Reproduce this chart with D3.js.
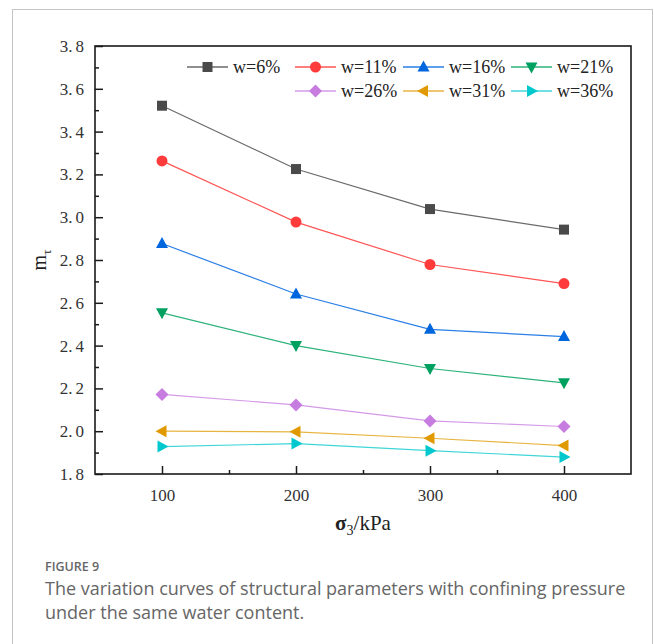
<!DOCTYPE html>
<html>
<head>
<meta charset="utf-8">
<script src="https://cdn.jsdelivr.net/npm/d3@7"></script>
<style>
  html, body { margin: 0; padding: 0; background: #fff; }
  svg { display: block; }
  .serif { font-family: "Liberation Serif", "Times New Roman", serif; }
</style>
</head>
<body>
<svg id="chart" width="654" height="644"></svg>
<script>
// Confining pressure levels (kPa)
const pressures = [100, 200, 300, 400];

// Structural parameter m_tau for each water content
const w6  = [3.521, 3.225, 3.038, 2.942];
const w11 = [3.263, 2.977, 2.779, 2.690];
const w16 = [2.877, 2.641, 2.476, 2.442];
const w21 = [2.553, 2.400, 2.293, 2.226];
const w26 = [2.172, 2.123, 2.048, 2.022];
const w31 = [2.000, 1.997, 1.967, 1.933];
const w36 = [1.928, 1.942, 1.909, 1.879];

const seriesNames = ["w=6%", "w=11%", "w=16%", "w=21%", "w=26%", "w=31%", "w=36%"];
const yTicks = [1.8, 2.0, 2.2, 2.4, 2.6, 2.8, 3.0, 3.2, 3.4, 3.6, 3.8];
const yMinorTicks = [1.9, 2.1, 2.3, 2.5, 2.7, 2.9, 3.1, 3.3, 3.5, 3.7];
const xTicks = [100, 200, 300, 400];
const xMinorTicks = [150, 250, 350];

const series = [
  { name: seriesNames[0], values: w6,  marker: "#4a4a4a", line: "#6a6a6a", shape: "square" },
  { name: seriesNames[1], values: w11, marker: "#ff3b3b", line: "#ff5555", shape: "circle" },
  { name: seriesNames[2], values: w16, marker: "#0066dd", line: "#2a7ee6", shape: "up" },
  { name: seriesNames[3], values: w21, marker: "#00a060", line: "#2db37a", shape: "down" },
  { name: seriesNames[4], values: w26, marker: "#c77ce0", line: "#d49ae8", shape: "diamond" },
  { name: seriesNames[5], values: w31, marker: "#e09a00", line: "#e8b440", shape: "left" },
  { name: seriesNames[6], values: w36, marker: "#00c8cc", line: "#40d6d8", shape: "right" }
];

const svg = d3.select("#chart");

// Outer figure frame
svg.append("rect")
  .attr("x", 12.5).attr("y", 9.5)
  .attr("width", 640).attr("height", 640)
  .attr("fill", "none").attr("stroke", "#c4c4c4").attr("stroke-width", 1);

const plot = { left: 95, right: 631, top: 46, bottom: 474 };

const x = d3.scaleLinear().domain([50, 450]).range([plot.left, plot.right]);
const y = d3.scaleLinear().domain([1.8, 3.8]).range([plot.bottom, plot.top]);

// Marker path generator
function markerPath(shape) {
  switch (shape) {
    case "square":  return "M-5,-5H5V5H-5Z";
    case "circle":  return d3.symbol(d3.symbolCircle, 95)();
    case "up":      return "M0,-6.5L6,4.5L-6,4.5Z";
    case "down":    return "M0,6.5L6,-4.5L-6,-4.5Z";
    case "diamond": return "M0,-6.5L6.5,0L0,6.5L-6.5,0Z";
    case "left":    return "M-6.5,0L4.5,-6L4.5,6Z";
    case "right":   return "M6.5,0L-4.5,-6L-4.5,6Z";
  }
}

// Data lines and markers
const line = d3.line().x((d, i) => x(pressures[i])).y(d => y(d));
const gSeries = svg.append("g");
series.forEach(s => {
  gSeries.append("path")
    .attr("d", line(s.values))
    .attr("fill", "none")
    .attr("stroke", s.line)
    .attr("stroke-width", 1.2);
});
series.forEach(s => {
  gSeries.selectAll(null)
    .data(s.values)
    .enter().append("path")
    .attr("d", markerPath(s.shape))
    .attr("transform", (d, i) => `translate(${x(pressures[i])},${y(d)})`)
    .attr("fill", s.marker);
});

// Axes with inward ticks (minor and major in separate groups)
const axisColor = "#1a1a1a";
function styleAxis(g) {
  g.select(".domain").remove();
  g.attr("font-family", null).attr("font-size", null);
  g.selectAll("line").attr("stroke", axisColor).attr("stroke-width", 1.5);
  g.selectAll("text")
    .attr("class", "serif")
    .style("font-size", "17px")
    .attr("fill", "#333");
}

svg.append("g").attr("transform", `translate(0,${plot.bottom})`)
  .call(d3.axisBottom(x).tickValues(xMinorTicks).tickSize(-4).tickFormat(""))
  .call(styleAxis);
const gx = svg.append("g").attr("transform", `translate(0,${plot.bottom})`)
  .call(d3.axisBottom(x).tickValues(xTicks).tickSize(-8).tickFormat(d3.format("d")))
  .call(styleAxis);
gx.selectAll("text").attr("y", 15);

svg.append("g").attr("transform", `translate(${plot.left},0)`)
  .call(d3.axisLeft(y).tickValues(yMinorTicks).tickSize(-4).tickFormat(""))
  .call(styleAxis);
const gy = svg.append("g").attr("transform", `translate(${plot.left},0)`)
  .call(d3.axisLeft(y).tickValues(yTicks).tickSize(-8).tickFormat(d3.format(".1f")))
  .call(styleAxis);
// wider gap after the decimal point
gy.selectAll("text").attr("x", -11).each(function (d) {
  const t = d3.select(this);
  const [a, b] = d3.format(".1f")(d).split(".");
  t.text(null);
  t.append("tspan").text(a + ".");
  t.append("tspan").attr("dx", 3).text(b);
});

// Plot frame
svg.append("rect")
  .attr("x", plot.left).attr("y", plot.top)
  .attr("width", plot.right - plot.left).attr("height", plot.bottom - plot.top)
  .attr("fill", "none").attr("stroke", axisColor).attr("stroke-width", 1.6);

// Axis titles
const xt = svg.append("text")
  .attr("class", "serif")
  .attr("x", (plot.left + plot.right) / 2).attr("y", 530)
  .attr("text-anchor", "middle")
  .attr("font-size", 21).attr("fill", "#222");
xt.append("tspan").text("σ").attr("font-weight", "bold");
xt.append("tspan").text("3").attr("font-size", 14).attr("dy", 5);
xt.append("tspan").text("/kPa").attr("dy", -5);

const yt = svg.append("text")
  .attr("class", "serif")
  .attr("transform", `translate(46,${(plot.top + plot.bottom) / 2}) rotate(-90)`)
  .attr("text-anchor", "middle")
  .attr("font-size", 20).attr("fill", "#222");
yt.append("tspan").text("m");
yt.append("tspan").text("τ").attr("font-size", 13).attr("dy", 5);

// Legend
const legendPos = [
  { x: 187, y: 67 }, { x: 295, y: 67 }, { x: 403, y: 67 }, { x: 511, y: 67 },
  { x: 295, y: 91 }, { x: 403, y: 91 }, { x: 511, y: 91 }
];
const gl = svg.append("g");
series.forEach((s, i) => {
  const p = legendPos[i];
  const g = gl.append("g").attr("transform", `translate(${p.x},${p.y})`);
  g.append("line").attr("x1", 0).attr("x2", 41).attr("y1", 0).attr("y2", 0)
    .attr("stroke", s.line).attr("stroke-width", 1.4);
  g.append("path").attr("d", markerPath(s.shape))
    .attr("transform", "translate(20.5,0)").attr("fill", s.marker);
  g.append("text").attr("class", "serif").attr("x", 46).attr("y", 0).attr("dy", "0.35em")
    .attr("font-size", 18).attr("fill", "#222")
    .text(s.name);
});

// Caption
svg.append("text").attr("x", 45).attr("y", 571)
  .attr("font-family", "Open Sans, sans-serif").attr("font-size", 12.5)
  .attr("font-weight", 600).attr("fill", "#666").text("FIGURE 9");
const cap = svg.append("text").attr("font-family", "Open Sans, sans-serif")
  .attr("font-size", 18).attr("fill", "#666");
cap.append("tspan").attr("x", 45).attr("y", 595)
  .text("The variation curves of structural parameters with confining pressure");
cap.append("tspan").attr("x", 45).attr("y", 619)
  .text("under the same water content.");
</script>
</body>
</html>
